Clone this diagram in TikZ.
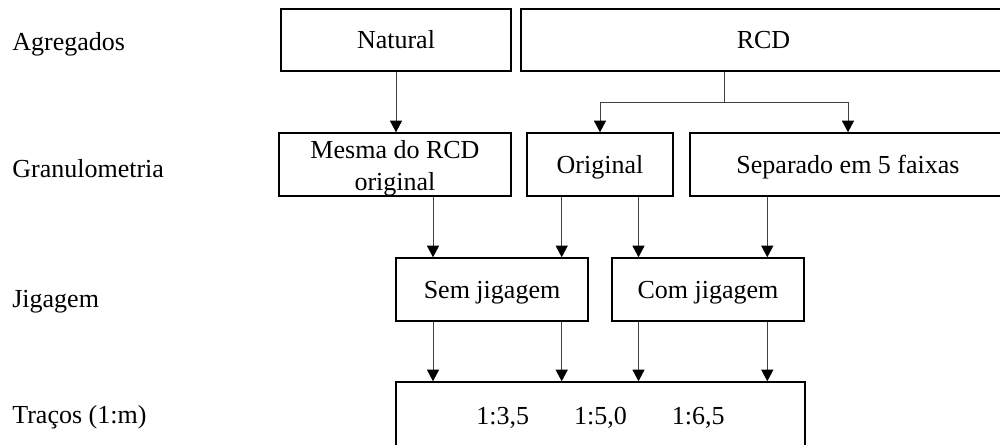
\documentclass[tikz,border=0pt]{standalone}
\usepackage{fontspec}
\setmainfont{Liberation Serif}
\usetikzlibrary{arrows.meta}

\tikzset{
	caixa/.style={draw, line width=0.9pt, inner sep=0pt, minimum height=1.25cm, align=center},
	linha/.style={text height=13.3pt, text depth=3.5pt},
	fio/.style={draw=black!75, line width=0.5pt},
	seta/.style={fio, -{Triangle[width=0.24cm,length=0.23cm,color=black]}},
	rotulo/.style={anchor=base west, inner sep=0pt}
}

\begin{document}
\begin{tikzpicture}[x=0.02cm, y=-0.02cm, font=\fontsize{14.8}{18}\selectfont]
	\useasboundingbox (0,0) rectangle (1000,444);

	% rotulos das linhas
	\node[rotulo] (lagr) at (12,50) {Agregados};
	\node[rotulo] (lgran) at (12,177) {Granulometria};
	\node[rotulo] (ljig) at (12,307) {Jigagem};
	\node[rotulo] (ltr) at (12,423) {Traços (1:m)};

	% caixas
	\node[caixa, linha, minimum width=4.6cm] (nat) at (396,40) {Natural};
	\node[caixa, linha, minimum width=9.7cm] (rcd) at (763.5,40) {RCD};

	\node[caixa, minimum width=4.64cm, minimum height=1.26cm] (mesma) at (395,164.5) {\rule{0pt}{14.5pt}Mesma do RCD\\original};
	\node[caixa, linha, minimum width=2.92cm, minimum height=1.26cm] (orig) at (600,164.5) {Original};
	\node[caixa, linha, minimum width=6.32cm, minimum height=1.26cm] (sep) at (848,164.5) {Separado em 5 faixas};

	\node[caixa, linha, minimum width=3.84cm, minimum height=1.26cm] (sem) at (492,289.5) {Sem jigagem};
	\node[caixa, linha, minimum width=3.84cm, minimum height=1.26cm] (com) at (708,289.5) {Com jigagem};

	\node[caixa, linha, minimum width=8.18cm, minimum height=1.36cm] (tr) at (600.5,416) {1:3,5\hspace{9mm}1:5,0\hspace{9mm}1:6,5};

	% colunas das setas
	\coordinate (c1) at (433,0);
	\coordinate (c2) at (561.7,0);
	\coordinate (c3) at (638.5,0);
	\coordinate (c4) at (767.3,0);
	\coordinate (ramo) at (724.5,102);

	\draw[seta] (nat.south) -- (nat.south |- mesma.north);
	\draw[fio] (rcd.south -| ramo) -- (ramo);
	\draw[seta] (ramo) -| (orig.north);
	\draw[seta] (ramo) -| (sep.north);

	\draw[seta] (mesma.south -| c1) -- (sem.north -| c1);
	\draw[seta] (orig.south -| c2) -- (sem.north -| c2);
	\draw[seta] (orig.south -| c3) -- (com.north -| c3);
	\draw[seta] (sep.south -| c4) -- (com.north -| c4);

	\foreach \c in {c1,c2}{
		\draw[seta] (sem.south -| \c) -- (tr.north -| \c);
	}
	\foreach \c in {c3,c4}{
		\draw[seta] (com.south -| \c) -- (tr.north -| \c);
	}
\end{tikzpicture}
\end{document}
